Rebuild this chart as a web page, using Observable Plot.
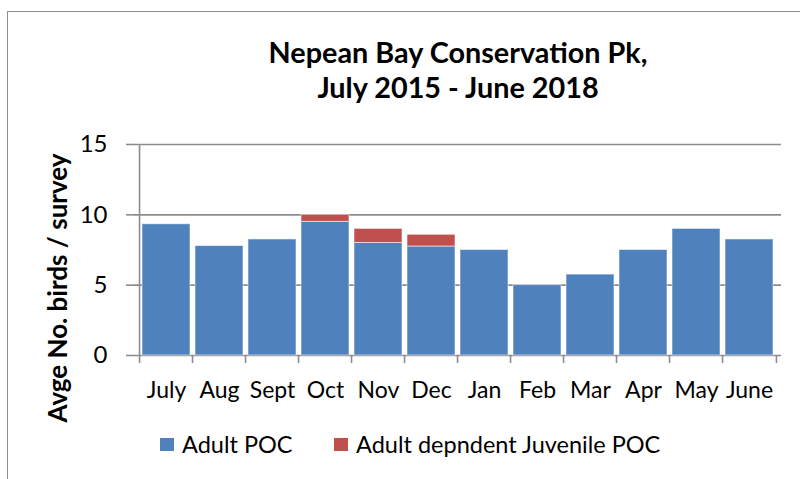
<!DOCTYPE html>
<html>
<head>
<meta charset="utf-8">
<script src="https://cdn.jsdelivr.net/npm/d3@7"></script>
<script src="https://cdn.jsdelivr.net/npm/@observablehq/plot@0.6"></script>
<style>
  html, body { margin: 0; padding: 0; background: #fff; }
  #chart { position: relative; width: 800px; height: 479px; overflow: hidden; font-family: Lato, "Open Sans", sans-serif; color: #000; }
  #chart svg { position: absolute; left: 0; top: 0; }
  .border { position: absolute; left: 7px; top: 11px; right: -10px; bottom: -10px; border-left: 1.3px solid #8c8c8c; border-top: 1.3px solid #8c8c8c; }
  .title { position: absolute; left: 208px; width: 500px; text-align: center; font-weight: bold; font-size: 28.8px; line-height: 35px; top: 34.7px; }
  .ylabel { position: absolute; left: 58px; top: 288px; transform: translate(-50%, -50%) rotate(-90deg); white-space: nowrap; font-weight: bold; font-size: 26px; line-height: 1.2; }
  .legend { position: absolute; top: 430px; font-size: 23.5px; line-height: 1.2; display: flex; align-items: center; white-space: nowrap; }
  .legend .sw { display: inline-block; width: 14px; height: 13px; margin-right: 8px; }
</style>
</head>
<body>
<div id="chart">
  <div class="border"></div>
</div>
<script>
// Average number of birds per survey, by month
const months = ["July", "Aug", "Sept", "Oct", "Nov", "Dec", "Jan", "Feb", "Mar", "Apr", "May", "June"];
const adult = [9.33, 7.78, 8.25, 9.5, 8, 7.75, 7.5, 5, 5.75, 7.5, 9, 8.25];
const juvenile = [0, 0, 0, 0.5, 1, 0.83, 0, 0, 0, 0, 0, 0];
const seriesNames = ["Adult POC", "Adult depndent Juvenile POC"];
const seriesColors = ["#4F81BD", "#C0504D"];
const yTicks = [0, 5, 10, 15];
const titleLines = ["Nepean Bay Conservation Pk,", "July 2015 - June 2018"];
const yLabel = "Avge No. birds / survey";

const rows = [];
months.forEach((m, i) => {
  rows.push({month: m, series: seriesNames[0], value: adult[i]});
  rows.push({month: m, series: seriesNames[1], value: juvenile[i]});
});

const W = 800, H = 479;
const mL = 134, mR = 19, mT = 144, mB = 124;
const step = (W - mL - mR) / months.length;
const grey = "#8c8c8c";

const plot = Plot.plot({
  width: W,
  height: H,
  marginLeft: mL,
  marginRight: mR,
  marginTop: mT,
  marginBottom: mB,
  style: {fontFamily: "Lato, 'Open Sans', sans-serif", fontSize: "23px", color: "#000", background: "transparent"},
  x: {domain: months, paddingInner: 0.09, paddingOuter: 0.045},
  y: {domain: [0, 15]},
  color: {domain: seriesNames, range: seriesColors},
  marks: [
    Plot.gridY(yTicks, {stroke: grey, strokeOpacity: 1, strokeWidth: 1.6}),
    Plot.barY(rows, Plot.stackY({x: "month", y: "value", fill: "series", order: seriesNames, stroke: "#fff", strokeOpacity: 0.55, strokeWidth: 1})),
    // left axis line
    Plot.ruleX([months[0]], {dx: -step / 2, y1: 0, y2: 15, stroke: grey, strokeWidth: 1.6}),
    // category boundary ticks below the baseline
    Plot.ruleX(months, {dx: -step / 2, y1: 0, y2: -0.57, stroke: grey, strokeWidth: 1.6}),
    Plot.ruleX([months[months.length - 1]], {dx: step / 2, y1: 0, y2: -0.57, stroke: grey, strokeWidth: 1.6}),
    Plot.axisY({ticks: yTicks, tickSize: 8, tickPadding: 19, stroke: grey, strokeWidth: 1.6, strokeOpacity: 1, label: null, fill: "#000", fontSize: 24}),
    Plot.axisX({tickSize: 0, tickPadding: 26, label: null, fill: "#000", fontSize: 23})
  ]
});

const chart = document.getElementById("chart");
chart.appendChild(plot);

const title = document.createElement("div");
title.className = "title";
title.innerHTML = titleLines.map(t => `<div>${t}</div>`).join("");
chart.appendChild(title);

const yl = document.createElement("div");
yl.className = "ylabel";
yl.textContent = yLabel;
chart.appendChild(yl);

const legendX = [160, 334];
seriesNames.forEach((name, i) => {
  const item = document.createElement("div");
  item.className = "legend";
  item.style.left = legendX[i] + "px";
  item.innerHTML = `<span class="sw" style="background:${seriesColors[i]}"></span><span>${name}</span>`;
  chart.appendChild(item);
});
</script>
</body>
</html>
